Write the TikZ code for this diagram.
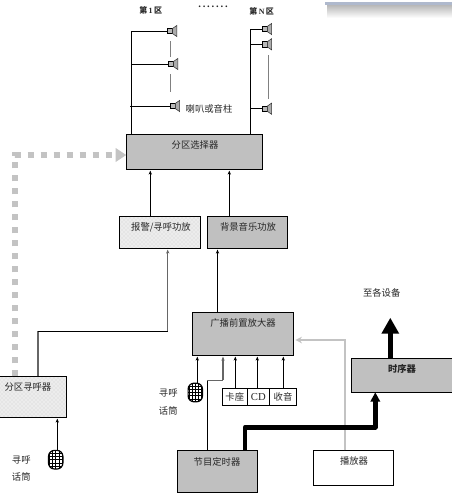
\documentclass[tikz,border=0pt]{standalone}
\usepackage{fontspec}
\setmainfont{Noto Sans CJK SC}
\newfontfamily\latinfont{Liberation Serif}
\usetikzlibrary{patterns, arrows.meta}
\definecolor{boxgray}{RGB}{192,192,192}
\definecolor{routegray}{RGB}{195,195,195}
\definecolor{bandblue}{RGB}{175,185,205}
\tikzset{
    boxsize/.style 2 args={minimum width=#1*0.75pt, minimum height=#2*0.75pt},
    plainbox/.style={draw=black, line width=0.75pt, inner sep=0pt, outer sep=0pt},
    graybox/.style={plainbox, fill=boxgray},
    mottledbox/.style={plainbox, preaction={fill=gray!15}, pattern=crosshatch dots, pattern color=gray!35},
    caption/.style={inner sep=0pt, font=\fontsize{7pt}{8pt}\selectfont, text=black!85},
    zonecaption/.style={caption, font=\fontsize{6pt}{7pt}\selectfont\bfseries},
    wire/.style={line width=0.7pt, -{Stealth[length=3pt, width=2.5pt]}, shorten >=1pt},
    spkbox/.style={draw=black, fill=gray!55, line width=0.6pt, inner sep=0pt, outer sep=0pt, minimum size=4pt},
    spkcone/.style={draw=black!80, fill=gray!65, line width=0.4pt},
    mic/.style={draw=black, line width=0.9pt, rounded corners=4.5pt, inner sep=0pt, minimum width=10.8pt, minimum height=14pt,
        path picture={
            \foreach \g in {-12,-9.6,...,12} {
                \draw[line width=0.4pt] ([xshift=\g pt]path picture bounding box.north) -- ([xshift=\g pt]path picture bounding box.south);
                \draw[line width=0.4pt] ([yshift=\g pt]path picture bounding box.west) -- ([yshift=\g pt]path picture bounding box.east);
            }
        }},
}
\newcommand{\speaker}[3]{%
    \node[spkbox] (#1) at (#2, #3) {};
    \draw[spkcone] (#1.north east) -- ++(3.2pt, 2.2pt) -- ++(0, -8.4pt) -- (#1.south east) -- cycle;
}

\begin{document}
\begin{tikzpicture}[x=0.75pt, y=-0.75pt, >=stealth]
    \useasboundingbox (0, 0) rectangle (452, 504);
    % window corner
    \shade[top color=gray!60, bottom color=white] (327, 4) rectangle (452, 18);
    \fill[bandblue] (325, 2) rectangle (452, 4.5);

    % boxes
    \node[graybox, boxsize={136.4}{35}] (selector) at (194.5, 151.8) {};
    \node[mottledbox, boxsize={80.7}{32}] (alarmamp) at (160.3, 232.3) {};
    \node[graybox, boxsize={80}{32}] (musicamp) at (247.3, 232.3) {};
    \node[graybox, boxsize={101}{43}] (preamp) at (242.8, 333.8) {};
    \node[graybox, boxsize={102}{34}] (sequencer) at (402.7, 375.3) {};
    \node[graybox, boxsize={80.4}{41.3}] (timer) at (217.5, 471.6) {};
    \node[plainbox, fill=white, boxsize={80}{35}] (player) at (353.3, 467.8) {};
    \node[mottledbox, boxsize={68}{41}] (pager) at (32.7, 396.8) {};
    \node[plainbox, fill=white, boxsize={25}{17.3}] (cardbox) at (234.8, 396.7) {};
    \node[plainbox, fill=white, boxsize={22}{17.3}] (cdbox) at (258.3, 396.7) {};
    \node[plainbox, fill=white, boxsize={27.4}{17.3}] (radiobox) at (283, 396.7) {};

    % box captions
    \node[caption] (selectortext) at (195, 145) {分区选择器};
    \node[caption] (alarmtext) at (161, 227) {报警/寻呼功放};
    \node[caption] (musictext) at (248, 227) {背景音乐功放};
    \node[caption] (preamptext) at (243, 323) {广播前置放大器};
    \node[caption, font=\fontsize{7pt}{8pt}\selectfont\bfseries] (sequencertext) at (402, 369) {时序器};
    \node[caption] (timertext) at (217, 462) {节目定时器};
    \node[caption] (playertext) at (354, 461) {播放器};
    \node[caption] (pagertext) at (28, 387) {分区寻呼器};
    \node[caption] (cardtext) at (234.8, 396.7) {卡座};
    \node[caption, font=\fontsize{8pt}{9pt}\latinfont] (cdtext) at (258.3, 396.7) {CD};
    \node[caption] (radiotext) at (283, 396.7) {收音};

    % other captions
    \node[zonecaption] (zoneone) at (150.7, 10.5) {第{\latinfont\bfseries\,1\,}区};
    \node[zonecaption, font=\fontsize{8pt}{9pt}\selectfont] (zonedots) at (213, 6.5) {{\latinfont\bfseries .\,.\,.\,.\,.\,.\,.}};
    \node[zonecaption] (zonen) at (261.7, 11.3) {第{\latinfont\bfseries\,N\,}区};
    \node[caption] (horntext) at (209, 109) {喇叭或音柱};
    \node[caption] (outtext) at (381.7, 293.3) {至各设备};
    \node[caption] (mictextA) at (168.3, 393.3) {寻呼};
    \node[caption] (mictextB) at (168.3, 410.7) {话筒};
    \node[caption] (mictextC) at (21.3, 460) {寻呼};
    \node[caption] (mictextD) at (21.3, 477) {话筒};

    % speakers
    \speaker{spkA}{170}{31}
    \speaker{spkB}{171}{64}
    \speaker{spkC}{172.7}{106}
    \speaker{spkD}{264.7}{29}
    \speaker{spkE}{264.7}{44.3}
    \speaker{spkF}{264.7}{108.7}
    \coordinate (busA) at (131.3, 134.3);
    \coordinate (busAtop) at (131.3, 31);
    \coordinate (busB) at (250.3, 134.3);
    \coordinate (busBtop) at (250.3, 29);
    \draw[line width=0.75pt] (busA) -- (busAtop) -- (spkA);
    \draw[line width=0.75pt] (busA |- spkB) -- (spkB);
    \draw[line width=0.75pt] (130, 106) -- (spkC);
    \draw[line width=0.75pt] (busB) -- (busBtop) -- (spkD);
    \draw[line width=0.75pt] (busB |- spkE) -- (spkE);
    \draw[line width=0.75pt] (busB |- spkF) -- (spkF);
    \draw[gray, line width=0.5pt] (170.3, 41) -- (170.3, 57);
    \draw[gray, line width=0.5pt] (170.3, 74) -- (170.3, 92);
    \draw[gray, line width=0.5pt] (268.3, 55) -- (268.3, 99);

    % microphones
    \node[mic] (micA) at (195.3, 392.5) {};
    \node[mic] (micB) at (55.7, 459.7) {};

    % connectors
    \draw[wire] (alarmamp.north -| 150.3, 0) -- (selector.south -| 150.3, 0);
    \draw[wire] (musicamp.north -| 229.3, 0) -- (selector.south -| 229.3, 0);
    \draw[wire] (preamp.north -| 217.5, 0) -- (musicamp.south -| 217.5, 0);
    \draw[line width=0.8pt, black!60] (pager.north -| 38, 0) -- (38, 331.3);
    \draw[line width=0.75pt] (38, 331.3) -- (167.7, 331.3);
    \draw[wire, black!60, line width=0.8pt] (167.7, 331.3) -- (alarmamp.south -| 167.7, 0);
    \draw[wire] (micA.north -| 197.3, 0) -- (preamp.south -| 197.3, 0);
    \draw[wire] (micB.north -| 57.3, 0) -- (pager.south -| 57.3, 0);
    \draw[line width=0.75pt] (timer.north -| 207.3, 0) -- (207.3, 380.3);
    \draw[line width=0.8pt, black!60] (207.3, 380.3) -- (223, 380.3);
    \draw[wire, black!60, line width=0.8pt] (223, 380.3) -- (preamp.south -| 223, 0);
    \draw[wire] (cardbox.north -| 235.3, 0) -- (preamp.south -| 235.3, 0);
    \draw[wire] (cdbox.north -| 257.3, 0) -- (preamp.south -| 257.3, 0);
    \draw[wire] (radiobox.north -| 283.3, 0) -- (preamp.south -| 283.3, 0);
    \draw[routegray, line width=0.85pt, -{Stealth[length=5pt, width=5pt, open]}, shorten >=1.5pt]
        (player.north -| 345, 0) -- (345, 340) -- (preamp.east |- 0, 340);
    \draw[line width=3.5pt, line join=round, -{Stealth[length=7pt, width=7pt, inset=0pt]}]
        (timer.north -| 245, 0) -- (245, 427.3) -- (375.3, 427.3) -- (sequencer.south -| 375.3, 0);
    \draw[line width=4pt, -{Stealth[length=12pt, width=12.5pt, inset=0pt]}]
        (sequencer.north -| 390.3, 0) -- (390.3, 317.7);
    \draw[routegray, line width=4.5pt, dash pattern=on 4.5pt off 5.25pt, -{Stealth[length=8pt, width=10pt, inset=0pt]}]
        (pager.north -| 15, 0) -- (15, 155) -- (selector.west |- 0, 155);
\end{tikzpicture}
\end{document}
